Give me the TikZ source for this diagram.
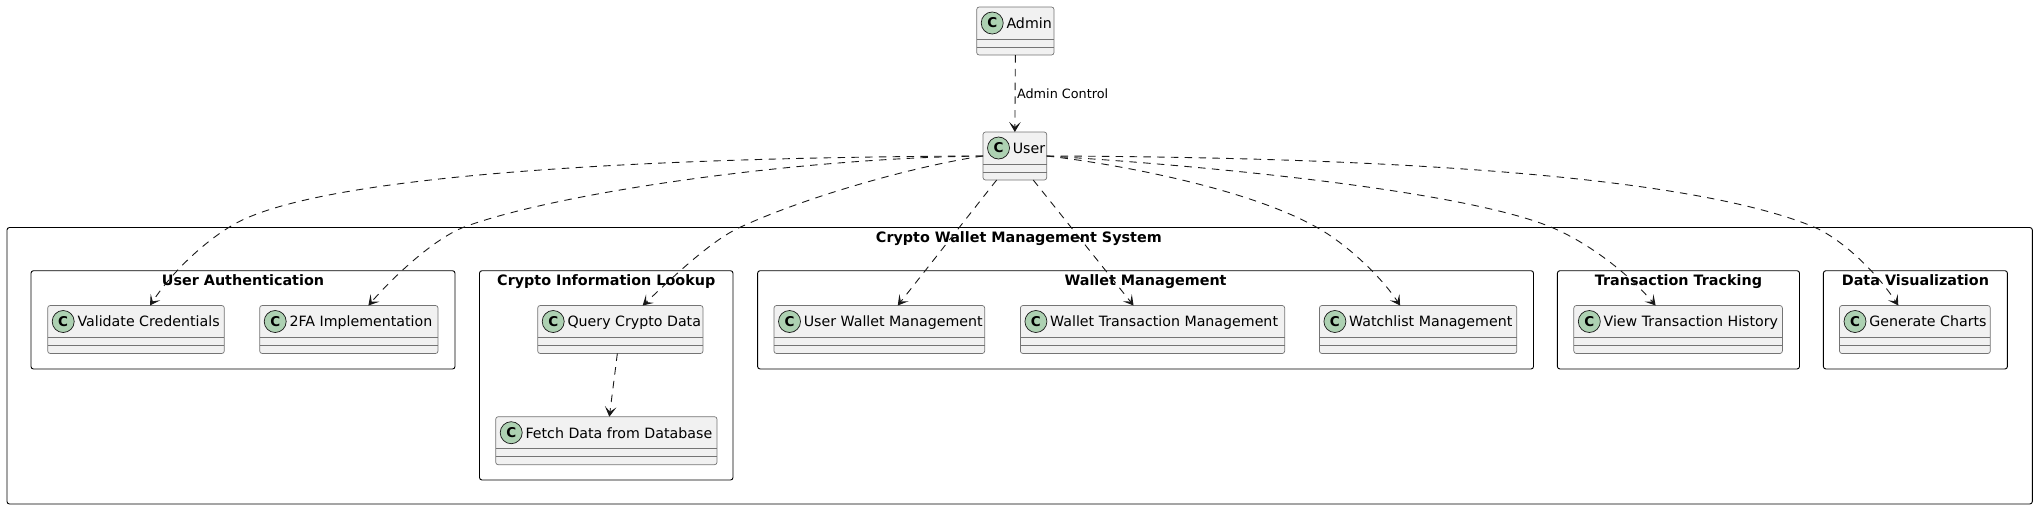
\documentclass[tikz,border=0pt]{standalone}
\usepackage{fontspec}
\setmainfont{DejaVu Sans}
\usepackage{xcolor}
\usetikzlibrary{positioning,calc,arrows.meta}

\definecolor{boxfill}{HTML}{F1F1F1}
\definecolor{boxline}{HTML}{181818}
\definecolor{spotfill}{HTML}{ADD1B2}

\tikzset{
    pkgbox/.style={draw=black, line width=0.9pt, rounded corners=2.5pt, inner sep=0pt, outer sep=0pt, anchor=north west},
    pkgtitle/.style={font=\fontsize{14.35}{16}\selectfont\bfseries, inner sep=0pt, anchor=base, text=black},
    classbox/.style={draw=boxline!60, fill=boxfill, line width=0.7pt, rounded corners=2.5pt, inner sep=0pt, outer sep=0pt, minimum height=48pt, anchor=north west},
    classrule/.style={draw=boxline!60, line width=0.7pt},
    classspot/.style={circle, draw=boxline, fill=spotfill, line width=0.7pt, minimum size=22pt, inner sep=0pt, font=\fontsize{13.5}{14}\selectfont\bfseries},
    classname/.style={font=\fontsize{14.2}{16}\selectfont, inner sep=0pt, anchor=base west, text=black},
    depends/.style={draw=boxline, line width=0.9pt, dash pattern=on 7.5pt off 6.3pt, -{Stealth[length=10pt,width=11.5pt,inset=5pt]}},
    edgelabel/.style={font=\fontsize{12.8}{15}\selectfont, inner sep=0pt, text=black}
}

% name, left, top, width, text
\newcommand{\umlclass}[5]{
    \node[classbox, minimum width=#4pt] (#1) at (#2,#3) {};
    \draw[classrule] ([yshift=-32pt]#1.north west) -- ([yshift=-32pt]#1.north east);
    \draw[classrule] ([yshift=-40pt]#1.north west) -- ([yshift=-40pt]#1.north east);
    \node[classspot] (#1spot) at ([xshift=15.5pt,yshift=-16pt]#1.north west) {C};
    \node[classname] (#1name) at ([xshift=29.6pt,yshift=-21.3pt]#1.north west) {#5};
}
% name, left, top, width, height, text
\newcommand{\umlpackage}[6]{
    \node[pkgbox, minimum width=#4pt, minimum height=#5pt] (#1) at (#2,#3) {};
    \node[pkgtitle] (#1title) at ([yshift=-14.3pt]#1.north) {#6};
}

\begin{document}
\begin{tikzpicture}[x=1pt,y=-1pt]
    \useasboundingbox (0,0) rectangle (2036,509);

    % Outer system
    \node[pkgbox, minimum width=2025.3pt, minimum height=276.5pt] (system) at (7,227.5) {};
    \node[pkgtitle] (systemtitle) at ([xshift=-0.8pt,yshift=-14.8pt]system.north) {Crypto Wallet Management System};

    % Packages
    \umlpackage{auth}{31}{270.7}{424}{98.3}{User Authentication}
    \umlpackage{lookup}{479.5}{270.7}{253.5}{209.3}{Crypto Information Lookup}
    \umlpackage{wallet}{757.6}{270.7}{775.9}{98.3}{Wallet Management}
    \umlpackage{tracking}{1557.4}{270.7}{242.1}{98.3}{Transaction Tracking}
    \umlpackage{dataviz}{1823.4}{270.7}{184}{98.3}{Data Visualization}

    % Classes
    \umlclass{admin}{976.7}{7}{77.3}{Admin}
    \umlclass{user}{983}{132}{63.7}{User}
    \umlclass{validcred}{47.7}{305.5}{176.6}{Validate Credentials}
    \umlclass{twofa}{259.7}{305.5}{178.3}{2FA Implementation}
    \umlclass{querydata}{537.7}{305.5}{165.3}{Query Crypto Data}
    \umlclass{fetchdata}{495.7}{416.7}{221.3}{Fetch Data from Database}
    \umlclass{userwallet}{774}{305.5}{210.7}{User Wallet Management}
    \umlclass{wallettx}{1020.4}{305.5}{264.3}{Wallet Transaction Management}
    \umlclass{watchlist}{1319.4}{305.5}{197.4}{Watchlist Management}
    \umlclass{viewhist}{1573.8}{305.5}{208.6}{View Transaction History}
    \umlclass{gencharts}{1839.5}{305.5}{150.8}{Generate Charts}

    % Connectors
    \draw[depends] (admin.south) -- node[edgelabel, right=1.5pt] (admincontrol) {Admin Control} (user.north);
    \draw[depends] (user.west) .. controls (700,157) and (320,170) .. (230,226.7)
        .. controls (200,245) and (170,275) .. ([xshift=14pt]validcred.north);
    \draw[depends] (user.west) .. controls (800,158) and (560,192) .. (465,226.7)
        .. controls (435,238) and (395,275) .. ([xshift=19.5pt]twofa.north);
    \draw[depends] (user.west) .. controls (920,165) and (810,195) .. (740,227.3)
        .. controls (710,241) and (670,280) .. ([xshift=22.3pt]querydata.north);
    \draw[depends] ([xshift=-18.2pt]user.south) -- ([xshift=18.4pt]userwallet.north);
    \draw[depends] ([xshift=18.4pt]user.south) -- ([xshift=-19pt]wallettx.north);
    \draw[depends] (user.east) .. controls (1110,163) and (1245,187) .. (1316.7,227.3)
        .. controls (1345,243) and (1380,275) .. ([xshift=-18pt]watchlist.north);
    \draw[depends] (user.east) .. controls (1200,165) and (1460,190) .. (1550,226.7)
        .. controls (1585,241) and (1625,270) .. ([xshift=-22.5pt]viewhist.north);
    \draw[depends] (user.east) .. controls (1350,157) and (1680,172) .. (1813.3,226.7)
        .. controls (1840,238) and (1875,270) .. ([xshift=-16.6pt]gencharts.north);
    \draw[depends] ([xshift=-3pt]querydata.south) -- ([xshift=3pt]fetchdata.north);
\end{tikzpicture}
\end{document}
